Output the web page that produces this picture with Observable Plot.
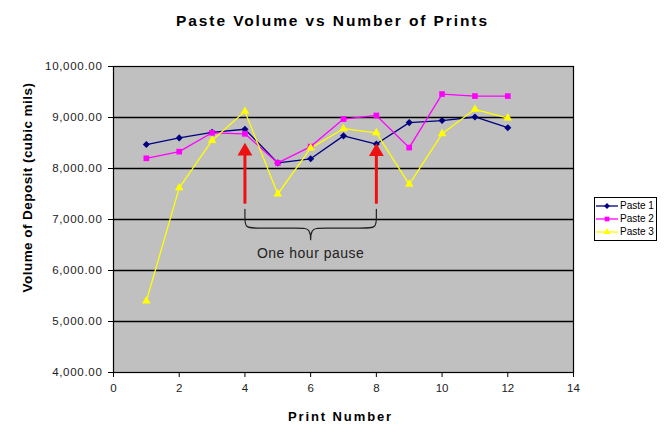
<!DOCTYPE html>
<html><head><meta charset="utf-8">
<script src="https://cdn.jsdelivr.net/npm/d3@7"></script>
<script src="https://cdn.jsdelivr.net/npm/@observablehq/plot@0.6"></script>
<style>
body{margin:0;background:#fff;font-family:"Liberation Sans",Arial,sans-serif;}
#wrap{position:relative;width:667px;height:437px;}
#legend{position:absolute;left:594px;top:197px;width:63px;height:44px;border:1px solid #000;background:#fff;font-size:10px;box-sizing:border-box;padding-top:1px;}
#legend div{display:flex;align-items:center;height:13px;margin-top:0px;white-space:nowrap;}
#legend svg{margin-left:1px;margin-right:2px;}
</style></head>
<body><div id="wrap"><div id="chart"></div><div id="legend"></div></div>
<script>
const prints = [1,2,3,4,5,6,7,8,9,10,11,12];
const paste1 = [8470,8600,8710,8770,8110,8190,8640,8480,8900,8940,9010,8800];
const paste2 = [8200,8330,8700,8680,8110,8430,8970,9040,8410,9460,9420,9420];
const paste3 = [5400,7620,8550,9120,7500,8400,8780,8700,7690,8680,9160,8990];
const seriesNames = ["Paste 1","Paste 2","Paste 3"];
const seriesColors = ["#000080","#ff00ff","#ffff00"];
const seriesSymbols = ["diamond2","square","triangle"];
const yTicks = [4000,5000,6000,7000,8000,9000,10000];
const xTicks = [0,2,4,6,8,10,12,14];
const arrowX = [4,8];
const arrowFrom = [7300,7300];
const arrowTo = [8280,8270];
const braceX = [4,4,4,4.35,5.7,6,6,6,6.3,7.65,8,8,8];
const braceY = [7200,7050,6830,6830,6830,6830,6490,6830,6830,6830,6830,7050,7200];
const noteText = "One hour pause";
const noteX = 6, noteY = 6330;
const titleText = "Paste Volume vs Number of Prints";
const xLabel = "Print Number";
const yLabel = "Volume of Deposit (cubic mils)";

const all = [paste1,paste2,paste3];
const rows = [];
all.forEach((arr,i)=>arr.forEach((v,j)=>rows.push({series:seriesNames[i],x:prints[j],y:v})));
const arrows = arrowX.map((x,i)=>({x,y1:arrowFrom[i],y2:arrowTo[i]}));
const brace = braceX.map((x,i)=>({x,y:braceY[i]}));

const fmt = d3.format(",.2f");
const plot = Plot.plot({
  width:667, height:437,
  marginLeft:113, marginRight:94, marginTop:66, marginBottom:65,
  style:{fontFamily:'"Liberation Sans",Arial,sans-serif', background:"transparent"},
  x:{domain:[0,14], ticks:xTicks, label:null},
  y:{domain:[4000,10000], ticks:yTicks, label:null},
  color:{domain:seriesNames, range:seriesColors},
  symbol:{domain:seriesNames, range:seriesSymbols},
  marks:[
    Plot.frame({fill:"#c0c0c0"}),
    Plot.ruleY(yTicks.slice(1,-1), {stroke:"#000", strokeWidth:1.3}),
    Plot.frame({stroke:"#000", strokeWidth:1.2}),
    Plot.axisY({ticks:yTicks, tickSize:5, tickPadding:6, tickFormat:fmt, fontSize:11.5, fill:"#222", stroke:"#000"}),
    Plot.axisX({ticks:xTicks, tickSize:5, tickPadding:6, fontSize:11.5, fill:"#222", stroke:"#000"}),
    Plot.line(brace, {x:"x", y:"y", curve:"basis", stroke:"#222", strokeWidth:1.2}),
    Plot.text([noteText], {x:noteX, y:noteY, fontSize:14, fill:"#222"}),
    Plot.line(rows, {x:"x", y:"y", z:"series", stroke:"series", strokeWidth:1.3}),
    Plot.dot(rows, {x:"x", y:"y", fill:"series", symbol:"series", r:3.2, stroke:"none"}),
    Plot.ruleX(arrows, {x:"x", y1:"y1", y2:"y2", stroke:"#ee1111", strokeWidth:3}),
    Plot.dot(arrows, {x:"x", y:"y2", symbol:"triangle", r:5.5, fill:"#ee1111", dy:-3}),
    Plot.text([titleText], {frameAnchor:"top", dx:-11, dy:-52, fontSize:15.5, fontWeight:"bold", fill:"#000"}),
    Plot.text([xLabel], {frameAnchor:"bottom", dx:-3, dy:48, fontSize:13, fontWeight:"bold", fill:"#000"}),
    Plot.text([yLabel], {frameAnchor:"left", textAnchor:"middle", dx:-86, dy:-32, rotate:-90, fontSize:13.5, fontWeight:"bold", fill:"#000"})
  ]
});
const spacing = {[titleText]:"1.9px", [xLabel]:"1.9px", [yLabel]:"0.45px", [noteText]:"0.5px"};
d3.select(plot).selectAll("text").each(function(){
  const t = this.textContent;
  if (spacing[t]) this.style.letterSpacing = spacing[t];
  else if (/^\d{1,2},000\.00$/.test(t)) this.style.letterSpacing = "0.7px";
});
document.getElementById("chart").appendChild(plot);

const leg = document.getElementById("legend");
seriesNames.forEach((n,i)=>{
  const d = document.createElement("div");
  const sym = d3.symbol(d3[{diamond2:"symbolDiamond2",square:"symbolSquare",triangle:"symbolTriangle"}[seriesSymbols[i]]], 22)();
  d.innerHTML = `<svg width="22" height="10"><line x1="0" x2="22" y1="5" y2="5" stroke="${seriesColors[i]}" stroke-width="1.3"/><path transform="translate(11,5)" d="${sym}" fill="${seriesColors[i]}"/></svg><span>${n}</span>`;
  leg.appendChild(d);
});
</script></body></html>
